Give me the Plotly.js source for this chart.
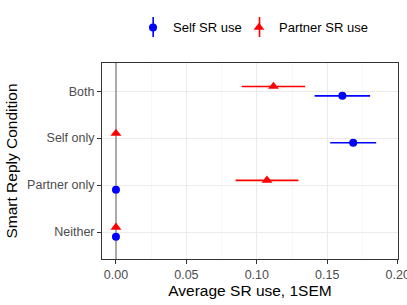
<!DOCTYPE html>
<html>
<head>
<meta charset="utf-8">
<script src="https://cdn.plot.ly/plotly-3.0.1.min.js"></script>
<style>html,body{margin:0;padding:0;background:#fff}#chart{width:407px;height:305px}</style>
</head>
<body>
<div id="chart"></div>
<script>
const categories = ["Neither", "Partner only", "Self only", "Both"];
const selfMean = [0, 0, 0.1684, 0.1607];
const selfSem = [0, 0, 0.0163, 0.0197];
const partnerMean = [0, 0.1072, 0, 0.1118];
const partnerSem = [0, 0.0223, 0, 0.0225];
const xTicks = [0, 0.05, 0.10, 0.15, 0.20];
const xTickLabels = ["0.00", "0.05", "0.10", "0.15", "0.20"];

const dodge = 0.1;
const base = categories.map((c, i) => i + 1);

const traces = [
  {
    name: "Self SR use",
    legend: "legend",
    type: "scatter", mode: "markers",
    x: selfMean,
    y: base.map(v => v - dodge),
    error_x: {type: "data", array: selfSem, color: "#0000ff", thickness: 1.6, width: 0},
    marker: {color: "#0000ff", size: 8, symbol: "circle"},
    hoverinfo: "x"
  },
  {
    name: "Partner SR use",
    legend: "legend2",
    type: "scatter", mode: "markers",
    x: partnerMean,
    y: base.map(v => v + dodge),
    error_x: {type: "data", array: partnerSem, color: "#ff0000", thickness: 1.6, width: 0},
    marker: {color: "#ff0000", size: 9.5, symbol: "triangle-up"},
    hoverinfo: "x"
  }
];

const legendCommon = {orientation: "h", xref: "container", yref: "container",
  xanchor: "left", y: 0.91, yanchor: "middle", bgcolor: "rgba(0,0,0,0)",
  font: {size: 13, color: "#000"}};

// vertical key strokes (pointrange legend glyphs)
function keyStroke(xPaper, color) {
  return {type: "line", xref: "paper", yref: "paper",
          x0: xPaper, x1: xPaper, y0: 1.1327, y1: 1.2347,
          line: {color: color, width: 1.6}, layer: "below"};
}

const layout = {
  width: 407, height: 305,
  margin: {l: 102, r: 9, t: 63, b: 46, autoexpand: false},
  paper_bgcolor: "#ffffff", plot_bgcolor: "#ffffff",
  font: {family: "Liberation Sans, Arial, sans-serif", color: "#000"},
  showlegend: true,
  legend: Object.assign({}, legendCommon, {x: 133 / 407}),
  legend2: Object.assign({}, legendCommon, {x: 239 / 407}),
  shapes: [keyStroke(0.1729, "#0000ff"), keyStroke(0.5322, "#ff0000")],
  xaxis: {
    range: [-0.0099, 0.2002],
    tickvals: xTicks, ticktext: xTickLabels,
    tickfont: {size: 12.5, color: "#4d4d4d"},
    ticklabeloverflow: "allow",
    ticks: "outside", ticklen: 4, tickcolor: "#333333",
    showgrid: true, gridcolor: "#ebebeb", gridwidth: 1,
    minor: {dtick: 0.025, tick0: 0.025, showgrid: true, gridcolor: "#f3f3f3", gridwidth: 0.6},
    zeroline: true, zerolinecolor: "#aaaaaa", zerolinewidth: 1.6,
    showline: true, mirror: true, linecolor: "#333333", linewidth: 1,
    automargin: false,
    title: {text: "Average SR use, 1SEM", font: {size: 15.5, color: "#000"}, standoff: 3}
  },
  yaxis: {
    range: [0.425, 4.6],
    tickvals: base, ticktext: categories,
    tickfont: {size: 12.5, color: "#4d4d4d"},
    ticks: "outside", ticklen: 4, tickcolor: "#333333",
    showgrid: true, gridcolor: "#ebebeb", gridwidth: 1,
    zeroline: false,
    showline: true, mirror: true, linecolor: "#333333", linewidth: 1,
    automargin: false,
    title: {text: "Smart Reply Condition", font: {size: 15.5, color: "#000"}, standoff: 5}
  }
};

Plotly.newPlot("chart", traces, layout, {displayModeBar: false, staticPlot: true});
</script>
</body>
</html>
